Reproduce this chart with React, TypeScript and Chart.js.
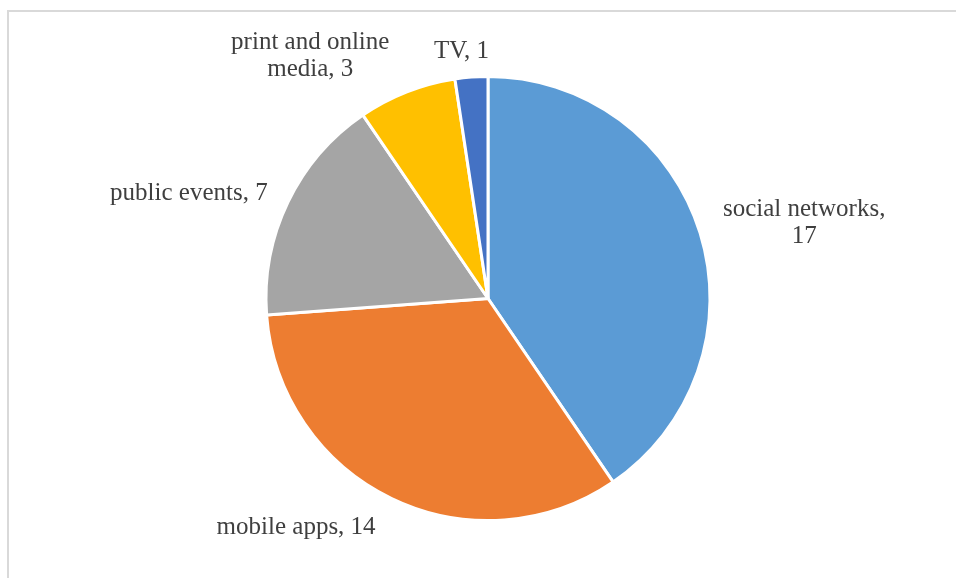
import React, { useEffect, useRef } from "react";
import { Chart, registerables } from "chart.js";

Chart.register(...registerables);

const categories = ["social networks", "mobile apps", "public events", "print and online media", "TV"];
const values = [17, 14, 7, 3, 1];
const sliceColors = ["#5B9BD5", "#ED7D31", "#A5A5A5", "#FFC000", "#4472C4"];

// label placement offsets (layout only), relative to the slice's mid-angle point on the rim
const labelOffsets: [number, number][] = [
  [105, -12],
  [-96, 28],
  [-100, -11],
  [-97, -38],
  [-10, -28],
];

const LABEL_FONT = "25px 'Liberation Serif'";
const LABEL_COLOR = "#3F3F3F";
const LINE_HEIGHT = 27;
const WRAP_WIDTH = 185;

function wrapText(ctx: CanvasRenderingContext2D, text: string, maxWidth: number): string[] {
  const words = text.split(" ");
  const lines: string[] = [];
  let cur = "";
  for (const w of words) {
    const test = cur ? cur + " " + w : w;
    if (cur && ctx.measureText(test).width > maxWidth) {
      lines.push(cur);
      cur = w;
    } else {
      cur = test;
    }
  }
  if (cur) lines.push(cur);
  return lines;
}

const labelPlugin = {
  id: "outsideLabels",
  afterDatasetsDraw(chart: any) {
    const ctx: CanvasRenderingContext2D = chart.ctx;
    const meta = chart.getDatasetMeta(0);
    ctx.save();
    ctx.font = LABEL_FONT;
    ctx.fillStyle = LABEL_COLOR;
    ctx.textAlign = "center";
    ctx.textBaseline = "alphabetic";
    meta.data.forEach((arc: any, i: number) => {
      const { x, y, startAngle, endAngle, outerRadius } = arc.getProps(
        ["x", "y", "startAngle", "endAngle", "outerRadius"],
        true
      );
      const mid = (startAngle + endAngle) / 2;
      const ax = x + Math.cos(mid) * (outerRadius - 1);
      const ay = y + Math.sin(mid) * (outerRadius - 1);
      const [dx, dy] = labelOffsets[i] || [0, 0];
      const cx = ax + dx;
      const cy = ay + dy;
      const text = `${chart.data.labels[i]}, ${chart.data.datasets[0].data[i]}`;
      const lines = wrapText(ctx, text, WRAP_WIDTH);
      const n = lines.length;
      lines.forEach((line, li) => {
        const by = cy + (li - (n - 1) / 2) * LINE_HEIGHT + 8;
        ctx.fillText(line, cx, by);
      });
    });
    ctx.restore();
  },
};

export default function App() {
  const canvasRef = useRef<HTMLCanvasElement | null>(null);

  useEffect(() => {
    if (!canvasRef.current) return;
    const chart = new Chart(canvasRef.current, {
      type: "pie",
      data: {
        labels: categories,
        datasets: [
          {
            data: values,
            backgroundColor: sliceColors,
            borderColor: "#FFFFFF",
            borderWidth: 3,
          },
        ],
      },
      options: {
        responsive: false,
        animation: false,
        layout: { padding: { top: 75, bottom: 56, left: 20, right: 0 } },
        plugins: {
          legend: { display: false },
          tooltip: { enabled: false },
          title: { display: false },
        },
      },
      plugins: [labelPlugin],
    });
    return () => chart.destroy();
  }, []);

  return (
    <div
      style={{
        position: "fixed",
        left: 0,
        top: 0,
        width: 956,
        height: 578,
        overflow: "hidden",
        background: "#FFFFFF",
      }}
    >
      <div
        style={{
          position: "absolute",
          left: 7,
          top: 10,
          width: 1200,
          height: 1000,
          border: "2px solid #D9D9D9",
          boxSizing: "border-box",
        }}
      />
      <canvas
        ref={canvasRef}
        width={956}
        height={578}
        style={{ position: "absolute", left: 0, top: 0, width: 956, height: 578 }}
      />
    </div>
  );
}
